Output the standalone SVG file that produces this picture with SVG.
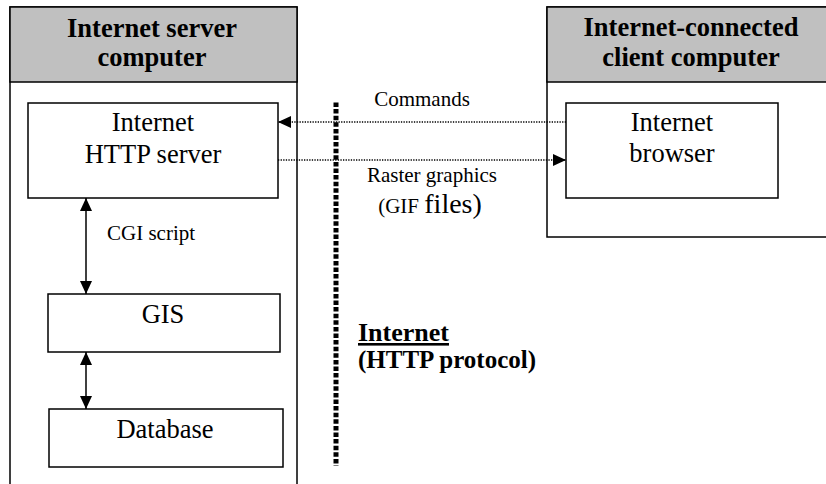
<svg xmlns="http://www.w3.org/2000/svg" width="826" height="484" viewBox="0 0 826 484">
<defs>
<style>
.box{fill:#fff;stroke:#000;stroke-width:1.5}
.hdr{fill:#c0c0c0;stroke:#000;stroke-width:1.5}
text{font-family:'Liberation Serif','Times New Roman','DejaVu Serif',serif;fill:#000}
.hb{font-size:26.5px;font-weight:bold;text-anchor:middle}
.n{font-size:26.5px;text-anchor:middle}
.s{font-size:21px}
.line{stroke:#000;stroke-width:1.5;fill:none}
.dot{stroke:#000;stroke-width:1.3;stroke-dasharray:1.3 1.3;fill:none}
</style>
<marker id="ah" viewBox="0 0 13 12" refX="13" refY="6" markerWidth="13" markerHeight="12" markerUnits="userSpaceOnUse" orient="auto-start-reverse">
<path d="M0,0 L13,6 L0,12 z" fill="#000"/>
</marker>
</defs>
<rect width="826" height="484" fill="#fff"/>
<g id="server-computer">
<rect class="box" x="10" y="7" width="287" height="490"/>
<rect class="hdr" x="10" y="7" width="287" height="75"/>
<text class="hb" x="152" y="37">Internet server</text>
<text class="hb" x="152" y="66">computer</text>
</g>
<g id="client-computer">
<rect class="box" x="547" y="7" width="290" height="230"/>
<rect class="hdr" x="547" y="7" width="290" height="75"/>
<text class="hb" x="691" y="36">Internet-connected</text>
<text class="hb" x="691" y="65.5">client computer</text>
</g>
<g id="http-server">
<rect class="box" x="28" y="103" width="250" height="95"/>
<text class="n" x="153" y="131">Internet</text>
<text class="n" x="153" y="163">HTTP server</text>
</g>
<g id="browser">
<rect class="box" x="566" y="103" width="212" height="95"/>
<text class="n" x="672" y="131">Internet</text>
<text class="n" x="672" y="162">browser</text>
</g>
<g id="gis">
<rect class="box" x="48" y="294" width="232" height="58"/>
<text class="n" x="163" y="323">GIS</text>
</g>
<g id="database">
<rect class="box" x="49" y="409" width="234" height="58"/>
<text class="n" x="165" y="438">Database</text>
</g>
<g id="internet">
<line x1="336" y1="102.5" x2="336" y2="466" stroke="#000" stroke-width="5" stroke-dasharray="4.5 2.1"/>
<text x="358" y="341" font-size="26" font-weight="bold" text-decoration="underline">Internet</text>
<text x="358" y="368" font-size="25" font-weight="bold">(HTTP protocol)</text>
</g>
<g id="connectors">
<line class="line" x1="86" y1="198" x2="86" y2="294" marker-start="url(#ah)" marker-end="url(#ah)"/>
<line class="line" x1="86" y1="352" x2="86" y2="409" marker-start="url(#ah)" marker-end="url(#ah)"/>
<line class="dot" x1="566" y1="122" x2="278" y2="122" marker-end="url(#ah)"/>
<line class="dot" x1="278" y1="160" x2="566" y2="160" marker-end="url(#ah)"/>
<text class="s" x="107" y="240">CGI script</text>
<text class="s" x="422" y="106" text-anchor="middle">Commands</text>
<text class="s" x="432" y="182" text-anchor="middle">Raster graphics</text>
<text x="430" y="213" text-anchor="middle"><tspan font-size="21">(GIF </tspan><tspan font-size="28">files)</tspan></text>
</g>
</svg>
